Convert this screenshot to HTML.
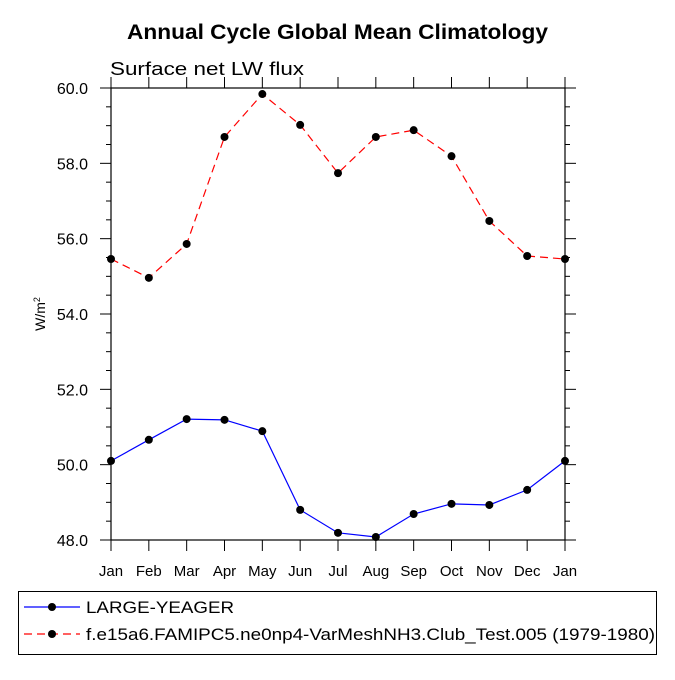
<!DOCTYPE html>
<html><head><meta charset="utf-8"><style>body{margin:0;background:#fff}</style></head>
<body>
<svg id="chart" width="675" height="675" xmlns="http://www.w3.org/2000/svg" font-family="Liberation Sans, sans-serif">
<text x="127" y="39" font-size="21" font-weight="bold" textLength="421" lengthAdjust="spacingAndGlyphs">Annual Cycle Global Mean Climatology</text>
<text x="110" y="75" font-size="18" textLength="194" lengthAdjust="spacingAndGlyphs">Surface net LW flux</text>
<text transform="translate(45,314) rotate(-90)" text-anchor="middle" font-size="14">W/m<tspan font-size="9" dy="-5">2</tspan></text>
<g id="plot"></g>
<g>
<rect x="18.5" y="591.5" width="638" height="63" fill="none" stroke="#000" stroke-width="1"/>
<line x1="24" y1="607" x2="80" y2="607" stroke="#00f" stroke-width="1.2"/>
<circle cx="52" cy="607" r="4"/>
<text x="86" y="613" font-size="17" textLength="148" lengthAdjust="spacingAndGlyphs">LARGE-YEAGER</text>
<line x1="24" y1="634" x2="80" y2="634" stroke="#f00" stroke-width="1.2" stroke-dasharray="8,5"/>
<circle cx="52" cy="634" r="4"/>
<text x="86" y="640" font-size="17" textLength="569" lengthAdjust="spacingAndGlyphs">f.e15a6.FAMIPC5.ne0np4-VarMeshNH3.Club_Test.005 (1979-1980)</text>
</g>
</svg>
<script>
const months = ["Jan","Feb","Mar","Apr","May","Jun","Jul","Aug","Sep","Oct","Nov","Dec","Jan"];
const largeYeager = [50.10,50.66,51.21,51.19,50.89,48.80,48.19,48.08,48.69,48.96,48.93,49.33,50.10];
const testCase = [55.46,54.96,55.86,58.70,59.84,59.02,57.74,58.70,58.88,58.19,56.47,55.54,55.46];
const yTickLabels = ["48.0","50.0","52.0","54.0","56.0","58.0","60.0"];
const yMin = 48, yMax = 60;
const L=111,R=565,T=88,B=540;
const xs = i => L + (R-L)*i/(months.length-1);
const ys = v => B - (B-T)*(v-yMin)/(yMax-yMin);
const NS="http://www.w3.org/2000/svg";
const g=document.getElementById('plot');
function mk(t,a){const e=document.createElementNS(NS,t);for(const k in a)e.setAttribute(k,a[k]);g.appendChild(e);return e;}
const frame=mk('rect',{x:L,y:T,width:R-L,height:B-T,fill:'none',stroke:'#000','stroke-width':1.2});


for(let v=yMin;v<=yMax+1e-9;v+=0.5){
  const major=Math.abs(v-Math.round(v/2)*2)<1e-9, len=major?11:5, y=ys(v);
  const t1=mk('line',{x1:L-len,y1:y,x2:L,y2:y,stroke:'#000'});
  
  
  const t2=mk('line',{x1:R,y1:y,x2:R+len,y2:y,stroke:'#000'});
  
  
}
yTickLabels.forEach(s=>{
  const tx=mk('text',{x:88,y:ys(parseFloat(s))+6,'text-anchor':'end','font-size':16});
  tx.textContent=s;
  
  
});
months.forEach((m,i)=>{
  const x=xs(i);
  const a=mk('line',{x1:x,y1:T-11,x2:x,y2:T,stroke:'#000'});
  
  
  const b=mk('line',{x1:x,y1:B,x2:x,y2:B+11,stroke:'#000'});
  
  
  const tx=mk('text',{x:x,y:576,'text-anchor':'middle','font-size':15});
  tx.textContent=m;
  
  
});
function series(vals,color,dash,name){
  const p=mk('polyline',{points:vals.map((v,i)=>xs(i)+','+ys(v)).join(' '),fill:'none',stroke:color,'stroke-width':1.2,'stroke-dasharray':dash});
  
  
  vals.forEach((v,i)=>{
    const c=mk('circle',{cx:xs(i),cy:ys(v),r:4,fill:'#000'});
    
    
  });
}
series(largeYeager,'#00f','none','large-yeager');
series(testCase,'#f00','8,5','test-case');
</script>
</body></html>
